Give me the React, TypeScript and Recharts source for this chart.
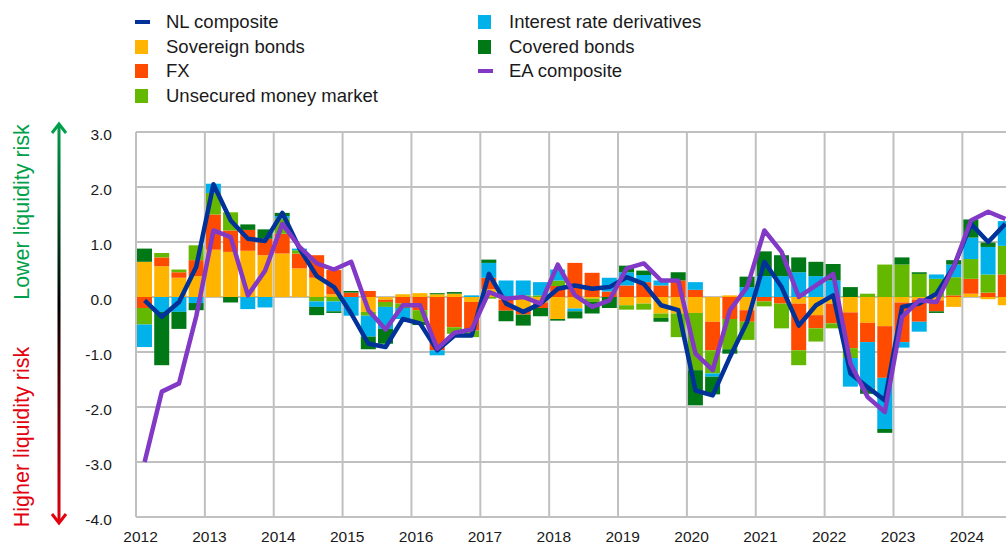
import React from 'react';
import { ComposedChart, Bar, Line, XAxis, YAxis, CartesianGrid } from 'recharts';

const quarters = [
  '2012Q1','2012Q2','2012Q3','2012Q4','2013Q1','2013Q2','2013Q3','2013Q4',
  '2014Q1','2014Q2','2014Q3','2014Q4','2015Q1','2015Q2','2015Q3','2015Q4',
  '2016Q1','2016Q2','2016Q3','2016Q4','2017Q1','2017Q2','2017Q3','2017Q4',
  '2018Q1','2018Q2','2018Q3','2018Q4','2019Q1','2019Q2','2019Q3','2019Q4',
  '2020Q1','2020Q2','2020Q3','2020Q4','2021Q1','2021Q2','2021Q3','2021Q4',
  '2022Q1','2022Q2','2022Q3','2022Q4','2023Q1','2023Q2','2023Q3','2023Q4',
  '2024Q1','2024Q2','2024Q3'
];

const yearLabels = ['2012','2013','2014','2015','2016','2017','2018','2019','2020','2021','2022','2023','2024'];
const yTicks = [-4, -3, -2, -1, 0, 1, 2, 3];

const sovereignBonds = [
  0.64, 0.56, 0.35, 0.38, 0.86, 0.82, 0.84, 0.76, 0.79, 0.52, 0.35, 0.05, 0.0,
  -0.27, -0.05, 0.05, 0.07, 0.05, 0.06, -0.09, 0.14, -0.05, -0.22, -0.1, -0.4,
  -0.21, -0.03, 0.0, -0.15, -0.12, -0.3, -0.3, -0.29, -0.45, 0.03, -0.24,
  0.0, 0.0, -0.12, -0.33, -0.12, -0.28, -0.47, -0.53, -0.1, -0.05, -0.06, -0.18,
  0.06, -0.04, -0.15
];
const fx = [
  -0.2, 0.16, 0.1, 0.29, 0.64, 0.39, 0.38, 0.3, 0.36, 0.27, 0.41, 0.44, 0.08,
  0.11, -0.04, -0.12, -0.24, -0.97, -0.55, -0.52, 0.21, -0.2, -0.1, -0.1, 0.2,
  0.62, 0.44, 0.1, 0.21, 0.27, 0.21, 0.3, 0.13, -0.52, -0.4, -0.21,
  -0.08, -0.12, -0.85, -0.24, -0.36, -0.65, -0.35, -0.94, -0.72, -0.4, -0.2, 0.03,
  0.27, 0.08, 0.41
];
const unsecuredMoneyMarket = [
  -0.3, 0.08, 0.05, 0.27, 0.39, 0.33, 0.0, 0.0, 0.28, 0.06, -0.08, -0.08, 0.0,
  -0.07, -0.09, -0.08, -0.21, 0.0, -0.12, -0.12, -0.03, 0.0, 0.03, 0.03, 0.1,
  0.0, -0.06, 0.0, -0.08, -0.11, -0.08, -0.43, -1.04, -0.42, -0.55, -0.33,
  -0.09, -0.45, -0.27, -0.24, -0.09, -0.18, 0.06, 0.59, 0.59, 0.42, 0.33, 0.33,
  0.36, 0.33, 0.52
];
const interestRateDerivatives = [
  -0.41, -0.27, -0.27, -0.11, 0.17, 0.0, -0.22, -0.19, 0.04, 0.03, -0.1, -0.18, -0.34,
  -0.38, -0.4, -0.2, 0.0, -0.09, 0.0, 0.03, 0.27, 0.3, 0.27, 0.24, 0.2,
  -0.05, 0.0, 0.25, 0.24, 0.13, 0.09, 0.0, 0.14, -0.06, 0.0, 0.18,
  0.38, 0.38, 0.45, 0.38, 0.3, -0.52, -0.85, -0.93, -0.1, -0.18, 0.08, 0.23,
  0.39, 0.5, 0.45
];
const coveredBonds = [
  0.24, -0.97, -0.31, -0.13, 0.0, -0.1, 0.1, 0.17, 0.06, 0.0, -0.15, -0.03, 0.03,
  -0.23, -0.27, 0.0, -0.06, 0.02, 0.03, 0.0, 0.06, -0.19, -0.2, -0.15, -0.03,
  -0.13, -0.21, -0.2, 0.12, 0.08, -0.07, 0.15, -0.64, -0.32, -0.08, 0.19,
  0.45, 0.38, 0.27, 0.26, 0.3, 0.18, -0.09, -0.07, 0.13, 0.03, -0.03, 0.08,
  0.33, 0.08, 0.0
];
const nlComposite = [
  -0.06, -0.36, -0.09, 0.55, 2.05, 1.39, 1.06, 1.02, 1.53, 0.88, 0.38, 0.18, -0.3,
  -0.85, -0.91, -0.4, -0.48, -0.97, -0.7, -0.7, 0.42, -0.12, -0.27, -0.12, 0.15,
  0.21, 0.15, 0.18, 0.36, 0.24, -0.15, -0.24, -1.7, -1.79, -1.09, -0.45,
  0.64, 0.18, -0.52, -0.15, 0.03, -1.39, -1.64, -1.88, -0.18, -0.12, 0.06, 0.55,
  1.33, 1.0, 1.33
];
const eaComposite = [
  -3.0, -1.72, -1.57, -0.35, 1.21, 1.09, 0.03, 0.48, 1.33, 0.91, 0.61, 0.5, 0.64,
  -0.24, -0.59, -0.15, -0.15, -0.94, -0.65, -0.59, 0.09, -0.03, 0.0, -0.12, 0.59,
  0.03, -0.18, -0.06, 0.52, 0.61, 0.3, 0.3, -1.03, -1.33, -0.24, 0.18,
  1.21, 0.82, 0.0, 0.21, 0.42, -1.21, -1.82, -2.09, -0.36, -0.06, -0.09, 0.55,
  1.39, 1.55, 1.42
];

const COLORS = {
  nl: '#003299',
  sov: '#FFB400',
  fx: '#FF4B00',
  umm: '#65B800',
  ird: '#00B1EA',
  cov: '#007816',
  ea: '#8139C6',
};

const data = quarters.map((q, i) => ({
  q,
  idx: i + 0.5,
  sov: sovereignBonds[i],
  fx: fx[i],
  umm: unsecuredMoneyMarket[i],
  ird: interestRateDerivatives[i],
  cov: coveredBonds[i],
  nl: nlComposite[i],
  ea: eaComposite[i],
}));

const xTickValues = yearLabels.map((_, k) => k * 4);

const FONT = '"Liberation Sans", Arial, sans-serif';

const CHART_W = 1030;
const CHART_H = 546;
const PLOT_LEFT = 136;
const PLOT_RIGHT_MARGIN = 16;
const PLOT_W = CHART_W - PLOT_LEFT - PLOT_RIGHT_MARGIN;
const HALF_Q = PLOT_W / quarters.length / 2;

const XTick = (props: any) => {
  const { x, payload } = props;
  const label = yearLabels[Math.round(payload.value / 4)];
  return (
    <text x={x + HALF_Q - 4} y={542} textAnchor="middle" fontSize={15.5} fontFamily={FONT} fill="#1a1a1a">
      {label}
    </text>
  );
};

const YTick = (props: any) => {
  const { y, payload } = props;
  return (
    <text x={112} y={y + 8} textAnchor="end" fontSize={15.5} fontFamily={FONT} fill="#1a1a1a">
      {Number(payload.value).toFixed(1)}
    </text>
  );
};

const legendLeft = [
  { label: 'NL composite', color: COLORS.nl, line: true },
  { label: 'Sovereign bonds', color: COLORS.sov },
  { label: 'FX', color: COLORS.fx },
  { label: 'Unsecured money market', color: COLORS.umm },
];
const legendRight = [
  { label: 'Interest rate derivatives', color: COLORS.ird },
  { label: 'Covered bonds', color: COLORS.cov },
  { label: 'EA composite', color: COLORS.ea, line: true },
];

const LegendCol = ({ items, left }: { items: any[]; left: number }) => (
  <div style={{ position: 'absolute', left, top: 10 }}>
    {items.map((it) => (
      <div key={it.label} style={{ display: 'flex', alignItems: 'center', height: 24.6 }}>
        <div style={{ width: 31, display: 'flex', alignItems: 'center' }}>
          {it.line ? (
            <div style={{ width: 15, height: 4, background: it.color }} />
          ) : (
            <div style={{ width: 13, height: 14, background: it.color }} />
          )}
        </div>
        <span style={{ fontFamily: FONT, fontSize: 18.5, color: '#1a1a1a', whiteSpace: 'nowrap' }}>{it.label}</span>
      </div>
    ))}
  </div>
);

export default function App() {
  return (
    <div style={{ position: 'fixed', left: 0, top: 0, width: 1006, height: 546, overflow: 'hidden', background: '#fff' }}>
      <ComposedChart
        width={CHART_W}
        height={CHART_H}
        data={data}
        stackOffset="sign"
        margin={{ top: 132, right: PLOT_RIGHT_MARGIN, bottom: 0, left: 0 }}
      >
        <CartesianGrid stroke="#c0c0c0" strokeWidth={2} />
        <XAxis
          type="number"
          dataKey="idx"
          domain={[0, quarters.length]}
          ticks={xTickValues}
          interval={0}
          axisLine={false}
          tickLine={false}
          height={29}
          tick={<XTick />}
          allowDataOverflow
        />
        <YAxis
          type="number"
          domain={[-4, 3]}
          ticks={yTicks}
          interval={0}
          axisLine={false}
          tickLine={false}
          width={PLOT_LEFT}
          tick={<YTick />}
          allowDataOverflow
        />
        <Bar dataKey="sov" stackId="s" fill={COLORS.sov} barSize={15} isAnimationActive={false} />
        <Bar dataKey="fx" stackId="s" fill={COLORS.fx} barSize={15} isAnimationActive={false} />
        <Bar dataKey="umm" stackId="s" fill={COLORS.umm} barSize={15} isAnimationActive={false} />
        <Bar dataKey="ird" stackId="s" fill={COLORS.ird} barSize={15} isAnimationActive={false} />
        <Bar dataKey="cov" stackId="s" fill={COLORS.cov} barSize={15} isAnimationActive={false} />
        <Line dataKey="nl" stroke={COLORS.nl} strokeWidth={4.5} dot={false} strokeLinejoin="round" isAnimationActive={false} />
        <Line dataKey="ea" stroke={COLORS.ea} strokeWidth={4.5} dot={false} strokeLinejoin="round" isAnimationActive={false} />
      </ComposedChart>

      <svg width={100} height={546} style={{ position: 'absolute', left: 0, top: 0 }}>
        <defs>
          <linearGradient id="riskGrad" x1="0" y1="123" x2="0" y2="525" gradientUnits="userSpaceOnUse">
            <stop offset="0" stopColor="#00A04A" />
            <stop offset="0.45" stopColor="#000000" />
            <stop offset="1" stopColor="#E3000F" />
          </linearGradient>
        </defs>
        <line x1={59} y1={124} x2={59} y2={523} stroke="url(#riskGrad)" strokeWidth={3} />
        <polyline points="52,133 59,124 66,133" fill="none" stroke="#00A04A" strokeWidth={3} />
        <polyline points="52,514 59,523 66,514" fill="none" stroke="#E3000F" strokeWidth={3} />
        <text
          transform="translate(29,212) rotate(-90)"
          textAnchor="middle"
          fontFamily={FONT}
          fontSize={21.5}
          fill="#00A04A"
        >
          Lower liquidity risk
        </text>
        <text
          transform="translate(29,437) rotate(-90)"
          textAnchor="middle"
          fontFamily={FONT}
          fontSize={21.5}
          fill="#E3000F"
        >
          Higher liquidity risk
        </text>
      </svg>

      <LegendCol items={legendLeft} left={135} />
      <LegendCol items={legendRight} left={478} />
    </div>
  );
}
